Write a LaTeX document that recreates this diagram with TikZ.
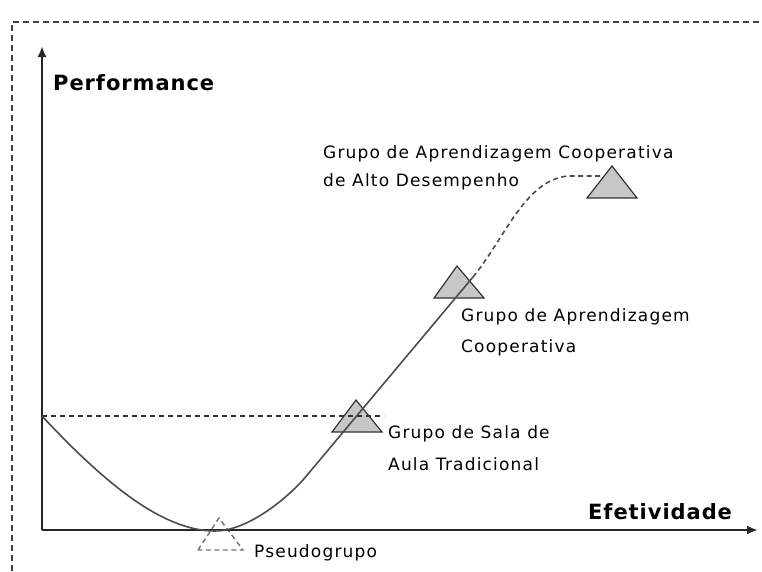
\documentclass[tikz,border=0pt]{standalone}
\usepackage{fontspec}
\setmainfont{DejaVu Sans}
\newfontfamily\lblfont[LetterSpace=7]{DejaVu Sans}
\newfontfamily\axfont[LetterSpace=4.5]{DejaVu Sans Bold}
\usetikzlibrary{arrows.meta}
\begin{document}
\begin{tikzpicture}[x=1pt,y=-1pt,
  lbl/.style={inner sep=0pt,anchor=base west,font=\lblfont\fontsize{17}{20}\selectfont,text=black},
  axlbl/.style={inner sep=0pt,anchor=base west,font=\axfont\fontsize{21}{24}\selectfont,text=black},
  axis/.style={line width=2.4pt,draw=black!85,-{Latex[length=11pt,width=9pt]}},
  curve/.style={line width=1.6pt,draw=black!70},
  dcurve/.style={line width=1.6pt,draw=black!70,dash pattern=on 5pt off 3.5pt},
  frame/.style={line width=1.3pt,draw=black!75,dash pattern=on 6pt off 4pt},
  tri/.style={fill=black!22,draw=black!80,line width=1.2pt},
  dtri/.style={draw=black!55,line width=1.4pt,dash pattern=on 5pt off 3.5pt}]
\useasboundingbox (0,0) rectangle (762,571);
% frame
\draw[frame] (12,571) -- (12,22) -- (762,22);
% triangles
\path (332,432) coordinate (t1l) (356,400) coordinate (t1a) (382,432) coordinate (t1r);
\path (434,298) coordinate (t2l) (457,266) coordinate (t2a) (484,298) coordinate (t2r);
\path (587,198) coordinate (t3l) (612,166) coordinate (t3a) (637,198) coordinate (t3r);
\path (198,550) coordinate (t0l) (219,518) coordinate (t0a) (243,550) coordinate (t0r);
\draw[tri] (t1l) -- (t1a) -- (t1r) -- cycle;
\draw[tri] (t2l) -- (t2a) -- (t2r) -- cycle;
\draw[tri] (t3l) -- (t3a) -- (t3r) -- cycle;
\draw[dtri] (t0l) -- (t0a) -- (t0r) -- cycle;
% axes
\coordinate (o) at (42,530);
\coordinate (ytip) at (42,46);
\coordinate (xtip) at (758,530);
\coordinate (y0) at (42,416);
\coordinate (h1) at (384,416);
\draw[axis] (o) -- (ytip);
\draw[axis] (o) -- (xtip);
\draw[frame,line width=1.4pt,draw=black!80,dash pattern=on 5pt off 4pt] (y0) -- (h1);
% curve
\coordinate (m) at (215,531);
\coordinate (c1) at (303,480);
\coordinate (c2) at (473,277);
\coordinate (c3) at (568,176);
\coordinate (c4) at (600,176);
\draw[curve] (y0) .. controls (100,478) and (160,531) .. (m)
  .. controls (245,531) and (282,503) .. (c1) -- (c2);
\draw[dcurve] (c2) .. controls (505,238) and (525,180) .. (c3) -- (c4);
% labels
\node[axlbl] (perf) at (53,90) {Performance};
\node[axlbl] (efet) at (588,519) {Efetividade};
\node[lbl] (l1a) at (323,158) {Grupo de Aprendizagem Cooperativa};
\node[lbl] (l1b) at (323,186) {de Alto Desempenho};
\node[lbl] (l2a) at (461,321) {Grupo de Aprendizagem};
\node[lbl] (l2b) at (461,352) {Cooperativa};
\node[lbl] (l3a) at (388,438) {Grupo de Sala de};
\node[lbl] (l3b) at (388,470) {Aula Tradicional};
\node[lbl] (l0) at (254,557) {Pseudogrupo};
\end{tikzpicture}
\end{document}
